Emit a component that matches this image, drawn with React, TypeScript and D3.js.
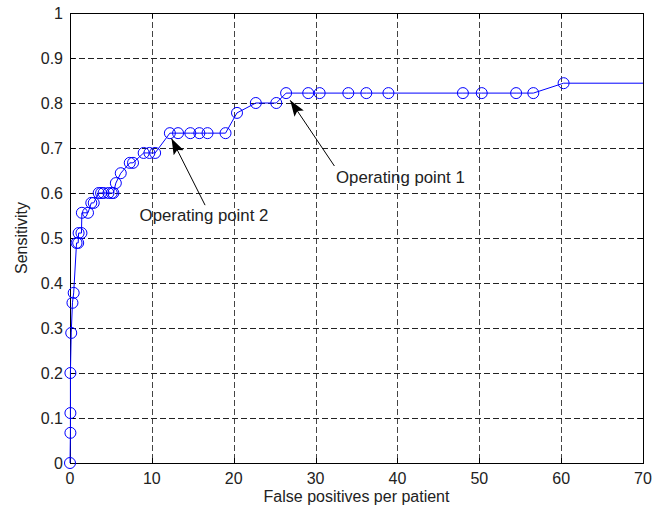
import React, { useRef, useEffect } from "react"
import * as d3 from "d3"

// false positives per patient (x) and sensitivity (y)
const fpPerPatient = [
  0, 0.05, 0.05, 0.05, 0.15, 0.3, 0.45, 0.8, 1.0, 1.05, 1.4, 1.45, 2.2, 2.6, 2.9, 3.5, 3.8, 4.1, 4.7,
  5.1, 5.3, 5.6, 6.2, 7.3, 7.7, 9.0, 9.7, 10.4, 12.2, 13.2, 14.7, 15.8, 16.8, 19.0, 20.4, 22.7, 25.2,
  26.4, 29.1, 30.5, 34.0, 36.2, 38.9, 48.0, 50.3, 54.5, 56.6, 60.3,
]
const sensitivity = [
  0, 0.067, 0.111, 0.2, 0.289, 0.356, 0.378, 0.489, 0.489, 0.511, 0.511, 0.556, 0.556, 0.578, 0.578,
  0.6, 0.6, 0.6, 0.6, 0.6, 0.6, 0.622, 0.644, 0.667, 0.667, 0.689, 0.689, 0.689, 0.733, 0.733, 0.733,
  0.733, 0.733, 0.733, 0.778, 0.8, 0.8, 0.822, 0.822, 0.822, 0.822, 0.822, 0.822, 0.822, 0.822, 0.822,
  0.822, 0.844,
]

const xTicks = [0, 10, 20, 30, 40, 50, 60, 70]
const yTicks = [0, 0.1, 0.2, 0.3, 0.4, 0.5, 0.6, 0.7, 0.8, 0.9, 1]

// annotations: text position, arrow tail and arrow tip in data units
const annotations = [
  { label: "Operating point 1", tx: 32.5, ty: 0.622, x0: 32.3, y0: 0.66, x1: 26.9, y1: 0.806 },
  { label: "Operating point 2", tx: 8.5, ty: 0.538, x0: 16.5, y0: 0.573, x1: 12.4, y1: 0.721 },
]

const width = 662
const height = 510
const font = "Arial, 'Liberation Sans', Helvetica, sans-serif"

const App: React.FC = () => {
  const svgRef = useRef<SVGSVGElement | null>(null)

  useEffect(() => {
    if (!svgRef.current) return
    const svg = d3.select(svgRef.current)
    svg.selectAll("*").remove()

    const margin = { top: 13, right: 19, bottom: 47, left: 70 }
    const w = width - margin.left - margin.right
    const h = height - margin.top - margin.bottom

    const x = d3.scaleLinear().domain([0, 70]).range([0, w])
    const y = d3.scaleLinear().domain([0, 1]).range([h, 0])

    const g = svg.append("g").attr("transform", `translate(${margin.left},${margin.top})`)

    // grid
    g.selectAll(".vgrid")
      .data(xTicks.slice(1, -1))
      .enter()
      .append("line")
      .attr("x1", (d) => Math.round(x(d)) + 0.5)
      .attr("x2", (d) => Math.round(x(d)) + 0.5)
      .attr("y1", 0)
      .attr("y2", h)
      .attr("stroke", "#444")
      .attr("stroke-dasharray", "6,3")
    g.selectAll(".hgrid")
      .data(yTicks.slice(1, -1))
      .enter()
      .append("line")
      .attr("x1", 0)
      .attr("x2", w)
      .attr("y1", (d) => Math.round(y(d)) + 0.5)
      .attr("y2", (d) => Math.round(y(d)) + 0.5)
      .attr("stroke", "#222")
      .attr("stroke-dasharray", "6,3")

    // box
    g.append("rect")
      .attr("x", 0.5)
      .attr("y", 0.5)
      .attr("width", w)
      .attr("height", h)
      .attr("fill", "none")
      .attr("stroke", "#000")

    // inward ticks
    const tl = 5
    xTicks.forEach((t) => {
      const px = Math.round(x(t)) + 0.5
      g.append("line").attr("x1", px).attr("x2", px).attr("y1", h).attr("y2", h - tl).attr("stroke", "#000")
      g.append("line").attr("x1", px).attr("x2", px).attr("y1", 0).attr("y2", tl).attr("stroke", "#000")
    })
    yTicks.forEach((t) => {
      const py = Math.round(y(t)) + 0.5
      g.append("line").attr("x1", 0).attr("x2", tl).attr("y1", py).attr("y2", py).attr("stroke", "#000")
      g.append("line").attr("x1", w).attr("x2", w - tl).attr("y1", py).attr("y2", py).attr("stroke", "#000")
    })

    // tick labels
    g.selectAll(".xl")
      .data(xTicks)
      .enter()
      .append("text")
      .attr("x", (d) => x(d))
      .attr("y", h + 21)
      .attr("text-anchor", "middle")
      .attr("font-family", font)
      .attr("font-size", 16)
      .attr("fill", "#222")
      .text((d) => String(d))
    g.selectAll(".yl")
      .data(yTicks)
      .enter()
      .append("text")
      .attr("x", -7)
      .attr("y", (d) => y(d))
      .attr("dy", "0.35em")
      .attr("text-anchor", "end")
      .attr("font-family", font)
      .attr("font-size", 16)
      .attr("fill", "#222")
      .text((d) => String(d))

    // axis labels
    g.append("text")
      .attr("x", w / 2)
      .attr("y", h + 39)
      .attr("text-anchor", "middle")
      .attr("font-family", font)
      .attr("font-size", 16)
      .attr("fill", "#222")
      .text("False positives per patient")
    g.append("text")
      .attr("transform", `translate(${-margin.left + 27},${h / 2}) rotate(-90)`)
      .attr("text-anchor", "middle")
      .attr("font-family", font)
      .attr("font-size", 16)
      .attr("fill", "#222")
      .text("Sensitivity")

    // ROC curve
    const pts: [number, number][] = fpPerPatient.map((d, i) => [d, sensitivity[i]])
    const last = pts[pts.length - 1]
    const linePts: [number, number][] = [...pts, [x.domain()[1], last[1]]]
    const line = d3
      .line<[number, number]>()
      .x((d) => x(d[0]))
      .y((d) => y(d[1]))
    g.append("path")
      .datum(linePts)
      .attr("d", line)
      .attr("fill", "none")
      .attr("stroke", "#0000ff")
      .attr("stroke-width", 1)

    g.selectAll(".mk")
      .data(pts)
      .enter()
      .append("circle")
      .attr("cx", (d) => x(d[0]))
      .attr("cy", (d) => y(d[1]))
      .attr("r", 5.5)
      .attr("fill", "none")
      .attr("stroke", "#0000ff")
      .attr("stroke-width", 1)

    // annotations
    svg
      .append("defs")
      .append("marker")
      .attr("id", "arrowhead")
      .attr("viewBox", "0 0 10 10")
      .attr("refX", 10)
      .attr("refY", 5)
      .attr("markerWidth", 16)
      .attr("markerHeight", 16)
      .attr("markerUnits", "userSpaceOnUse")
      .attr("orient", "auto")
      .append("path")
      .attr("d", "M0,1.5 L10,5 L0,8.5 L2,5 Z")
      .attr("fill", "#000")

    annotations.forEach((a) => {
      g.append("line")
        .attr("x1", x(a.x0))
        .attr("y1", y(a.y0))
        .attr("x2", x(a.x1))
        .attr("y2", y(a.y1))
        .attr("stroke", "#000")
        .attr("stroke-width", 1)
        .attr("marker-end", "url(#arrowhead)")
      g.append("text")
        .attr("x", x(a.tx))
        .attr("y", y(a.ty))
        .attr("font-family", font)
        .attr("font-size", 16.8)
        .attr("fill", "#222")
        .text(a.label)
    })
  }, [])

  return (
    <svg
      ref={svgRef}
      width={width}
      height={height}
      style={{ position: "absolute", left: 0, top: 0, display: "block", background: "#fff" }}
    ></svg>
  )
}

export default App
